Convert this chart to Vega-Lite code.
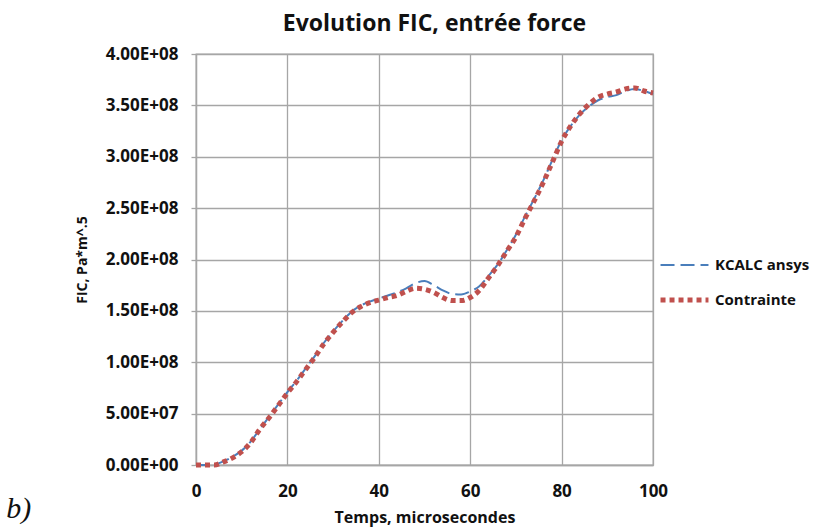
{
  "$schema": "https://vega.github.io/schema/vega-lite/v6.json",
  "autosize": "none",
  "width": 457,
  "height": 411,
  "padding": {"left": 196, "top": 54, "right": 162, "bottom": 66},
  "background": "white",
  "config": {
    "font": "Open Sans",
    "view": {"stroke": "#a6a6a6", "strokeWidth": 1.3}
  },
  "title": {
    "text": "Evolution  FIC, entrée force",
    "font": "Open Sans",
    "fontSize": 23,
    "fontWeight": "bold",
    "color": "#111111",
    "anchor": "middle",
    "dx": 10,
    "offset": 9
  },
  "datasets": {
    "curves": [
      {"t": 0, "v": 0, "s": "KCALC ansys"},
      {"t": 2, "v": 0, "s": "KCALC ansys"},
      {"t": 4, "v": 500000, "s": "KCALC ansys"},
      {"t": 6, "v": 3500000, "s": "KCALC ansys"},
      {"t": 8, "v": 8000000, "s": "KCALC ansys"},
      {"t": 10, "v": 14000000, "s": "KCALC ansys"},
      {"t": 12, "v": 23000000, "s": "KCALC ansys"},
      {"t": 14, "v": 35000000, "s": "KCALC ansys"},
      {"t": 16, "v": 47000000, "s": "KCALC ansys"},
      {"t": 18, "v": 59000000, "s": "KCALC ansys"},
      {"t": 20, "v": 71000000, "s": "KCALC ansys"},
      {"t": 22, "v": 82000000, "s": "KCALC ansys"},
      {"t": 24, "v": 94000000, "s": "KCALC ansys"},
      {"t": 26, "v": 106000000, "s": "KCALC ansys"},
      {"t": 28, "v": 119000000, "s": "KCALC ansys"},
      {"t": 30, "v": 130000000, "s": "KCALC ansys"},
      {"t": 32, "v": 140000000, "s": "KCALC ansys"},
      {"t": 34, "v": 149000000, "s": "KCALC ansys"},
      {"t": 36, "v": 155000000, "s": "KCALC ansys"},
      {"t": 38, "v": 159000000, "s": "KCALC ansys"},
      {"t": 40, "v": 162000000, "s": "KCALC ansys"},
      {"t": 42, "v": 165000000, "s": "KCALC ansys"},
      {"t": 44, "v": 168000000, "s": "KCALC ansys"},
      {"t": 46, "v": 172000000, "s": "KCALC ansys"},
      {"t": 48, "v": 177000000, "s": "KCALC ansys"},
      {"t": 50, "v": 179000000, "s": "KCALC ansys"},
      {"t": 52, "v": 175000000, "s": "KCALC ansys"},
      {"t": 54, "v": 170000000, "s": "KCALC ansys"},
      {"t": 56, "v": 166500000, "s": "KCALC ansys"},
      {"t": 58, "v": 166000000, "s": "KCALC ansys"},
      {"t": 60, "v": 169000000, "s": "KCALC ansys"},
      {"t": 62, "v": 174000000, "s": "KCALC ansys"},
      {"t": 64, "v": 184000000, "s": "KCALC ansys"},
      {"t": 66, "v": 195000000, "s": "KCALC ansys"},
      {"t": 68, "v": 209000000, "s": "KCALC ansys"},
      {"t": 70, "v": 224000000, "s": "KCALC ansys"},
      {"t": 72, "v": 242000000, "s": "KCALC ansys"},
      {"t": 74, "v": 259000000, "s": "KCALC ansys"},
      {"t": 76, "v": 277000000, "s": "KCALC ansys"},
      {"t": 78, "v": 297000000, "s": "KCALC ansys"},
      {"t": 80, "v": 316000000, "s": "KCALC ansys"},
      {"t": 82, "v": 330000000, "s": "KCALC ansys"},
      {"t": 84, "v": 341000000, "s": "KCALC ansys"},
      {"t": 86, "v": 349000000, "s": "KCALC ansys"},
      {"t": 88, "v": 355000000, "s": "KCALC ansys"},
      {"t": 90, "v": 358000000, "s": "KCALC ansys"},
      {"t": 92, "v": 360000000, "s": "KCALC ansys"},
      {"t": 94, "v": 364000000, "s": "KCALC ansys"},
      {"t": 96, "v": 366000000, "s": "KCALC ansys"},
      {"t": 98, "v": 364000000, "s": "KCALC ansys"},
      {"t": 100, "v": 361000000, "s": "KCALC ansys"},
      {"t": 0, "v": 0, "s": "Contrainte"},
      {"t": 2, "v": 0, "s": "Contrainte"},
      {"t": 4, "v": 0, "s": "Contrainte"},
      {"t": 6, "v": 3000000, "s": "Contrainte"},
      {"t": 8, "v": 7000000, "s": "Contrainte"},
      {"t": 10, "v": 13000000, "s": "Contrainte"},
      {"t": 12, "v": 22000000, "s": "Contrainte"},
      {"t": 14, "v": 35000000, "s": "Contrainte"},
      {"t": 16, "v": 46000000, "s": "Contrainte"},
      {"t": 18, "v": 58000000, "s": "Contrainte"},
      {"t": 20, "v": 70000000, "s": "Contrainte"},
      {"t": 22, "v": 81000000, "s": "Contrainte"},
      {"t": 24, "v": 93000000, "s": "Contrainte"},
      {"t": 26, "v": 105000000, "s": "Contrainte"},
      {"t": 28, "v": 118000000, "s": "Contrainte"},
      {"t": 30, "v": 129000000, "s": "Contrainte"},
      {"t": 32, "v": 139000000, "s": "Contrainte"},
      {"t": 34, "v": 148000000, "s": "Contrainte"},
      {"t": 36, "v": 154000000, "s": "Contrainte"},
      {"t": 38, "v": 158000000, "s": "Contrainte"},
      {"t": 40, "v": 160500000, "s": "Contrainte"},
      {"t": 42, "v": 163000000, "s": "Contrainte"},
      {"t": 44, "v": 165000000, "s": "Contrainte"},
      {"t": 46, "v": 169000000, "s": "Contrainte"},
      {"t": 48, "v": 172000000, "s": "Contrainte"},
      {"t": 50, "v": 171000000, "s": "Contrainte"},
      {"t": 52, "v": 168000000, "s": "Contrainte"},
      {"t": 54, "v": 163000000, "s": "Contrainte"},
      {"t": 56, "v": 160000000, "s": "Contrainte"},
      {"t": 58, "v": 160000000, "s": "Contrainte"},
      {"t": 60, "v": 163000000, "s": "Contrainte"},
      {"t": 62, "v": 170000000, "s": "Contrainte"},
      {"t": 64, "v": 182000000, "s": "Contrainte"},
      {"t": 66, "v": 194000000, "s": "Contrainte"},
      {"t": 68, "v": 208000000, "s": "Contrainte"},
      {"t": 70, "v": 222000000, "s": "Contrainte"},
      {"t": 72, "v": 240000000, "s": "Contrainte"},
      {"t": 74, "v": 257000000, "s": "Contrainte"},
      {"t": 76, "v": 275000000, "s": "Contrainte"},
      {"t": 78, "v": 295000000, "s": "Contrainte"},
      {"t": 80, "v": 315000000, "s": "Contrainte"},
      {"t": 82, "v": 330000000, "s": "Contrainte"},
      {"t": 84, "v": 342000000, "s": "Contrainte"},
      {"t": 86, "v": 351000000, "s": "Contrainte"},
      {"t": 88, "v": 358000000, "s": "Contrainte"},
      {"t": 90, "v": 361000000, "s": "Contrainte"},
      {"t": 92, "v": 363000000, "s": "Contrainte"},
      {"t": 94, "v": 366000000, "s": "Contrainte"},
      {"t": 96, "v": 367000000, "s": "Contrainte"},
      {"t": 98, "v": 364000000, "s": "Contrainte"},
      {"t": 100, "v": 362000000, "s": "Contrainte"}
    ],
    "label": [{"txt": "b)"}]
  },
  "layer": [
    {
      "data": {"name": "curves"},
      "mark": {"type": "line", "interpolate": "monotone", "strokeCap": "butt"},
      "encoding": {
        "x": {
          "field": "t",
          "type": "quantitative",
          "scale": {"domain": [0, 100], "nice": false},
          "axis": {
            "values": [0, 20, 40, 60, 80, 100],
            "title": "Temps, microsecondes",
            "titleFont": "Open Sans",
            "titleFontSize": 16,
            "titleFontWeight": "bold",
            "titleColor": "#111111",
            "titlePadding": 10,
            "labelFont": "Open Sans",
            "labelFontSize": 17,
            "labelFontWeight": "bold",
            "labelColor": "#111111",
            "labelPadding": 18,
            "labelFlush": false,
            "grid": true,
            "gridColor": "#a6a6a6",
            "gridWidth": 1.3,
            "domainColor": "#a6a6a6",
            "domainWidth": 1.3,
            "ticks": false
          }
        },
        "y": {
          "field": "v",
          "type": "quantitative",
          "scale": {"domain": [0, 400000000], "nice": false},
          "axis": {
            "values": [0, 50000000, 100000000, 150000000, 200000000, 250000000, 300000000, 350000000, 400000000],
            "labelExpr": "replace(format(datum.value, '.2e'), 'e+', 'E+0')",
            "title": "FIC, Pa*m^.5",
            "titleFont": "Open Sans",
            "titleFontSize": 14,
            "titleFontWeight": "bold",
            "titleColor": "#111111",
            "titlePadding": 16,
            "labelFont": "Open Sans",
            "labelFontSize": 17,
            "labelFontWeight": "bold",
            "labelColor": "#111111",
            "labelPadding": 13,
            "labelFlush": false,
            "grid": true,
            "gridColor": "#a6a6a6",
            "gridWidth": 1.3,
            "domainColor": "#a6a6a6",
            "domainWidth": 1.3,
            "ticks": true,
            "tickSize": 5,
            "tickColor": "#a6a6a6",
            "tickWidth": 1.3
          }
        },
        "color": {
          "field": "s",
          "type": "nominal",
          "scale": {"domain": ["KCALC ansys", "Contrainte"], "range": ["#4a7ebb", "#c0504d"]},
          "legend": {
            "title": null,
            "orient": "none",
            "legendX": 462,
            "legendY": 201,
            "symbolType": "stroke",
            "symbolSize": 2300,
            "clipHeight": 20,
            "labelFont": "Open Sans",
            "labelFontSize": 15,
            "labelFontWeight": "bold",
            "labelColor": "#111111",
            "labelOffset": 4,
            "rowPadding": 15
          }
        },
        "strokeDash": {
          "field": "s",
          "type": "nominal",
          "scale": {"domain": ["KCALC ansys", "Contrainte"], "range": [[14, 6], [5, 4]]},
          "legend": null
        },
        "strokeWidth": {
          "field": "s",
          "type": "nominal",
          "scale": {"domain": ["KCALC ansys", "Contrainte"], "range": [2, 5]},
          "legend": null
        },
        "order": {"field": "t", "type": "quantitative"}
      }
    },
    {
      "data": {"name": "label"},
      "mark": {"type": "text", "font": "Liberation Serif", "fontStyle": "italic", "fontSize": 30, "align": "left", "baseline": "middle", "color": "#111111"},
      "encoding": {
        "x": {"datum": -41.5},
        "y": {"datum": -43000000},
        "text": {"field": "txt"}
      }
    }
  ]
}
